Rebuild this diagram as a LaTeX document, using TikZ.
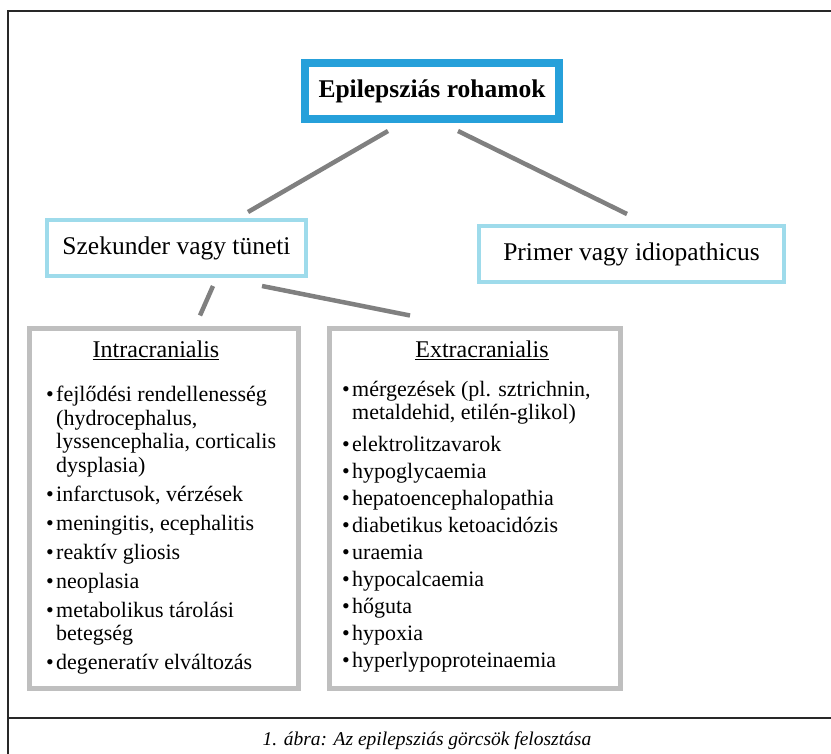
\documentclass[tikz,border=0pt]{standalone}
\usepackage{fontspec}
\setmainfont{Liberation Serif}
\usetikzlibrary{positioning}
\definecolor{rohamblue}{RGB}{38,160,218}
\definecolor{tipusblue}{RGB}{158,219,235}
\definecolor{listgray}{RGB}{191,191,191}
\definecolor{linkgray}{RGB}{128,128,128}
\definecolor{keretgray}{RGB}{40,40,40}
\newcommand{\pont}{\makebox[10pt][l]{\textbullet}}
\newcommand{\folyt}{\hspace*{10pt}}

\begin{document}
\begin{tikzpicture}[
    x=1pt, y=-1pt,
    rootbox/.style={draw=rohamblue, line width=8pt, fill=white,
        minimum width=254pt, minimum height=56pt,
        font=\fontsize{25.5}{30}\selectfont\bfseries},
    typebox/.style={draw=tipusblue, line width=4pt, fill=white,
        minimum height=56pt, font=\fontsize{25.5}{30}\selectfont},
    listbox/.style={draw=listgray, line width=5pt, minimum height=360pt},
    listhead/.style={font=\fontsize{24}{28}\selectfont, inner sep=0pt},
    listitems/.style={align=left, inner sep=0pt, anchor=north west,
        font=\fontsize{22}{23.5}\selectfont},
    link/.style={draw=linkgray, line width=4.5pt},
    keret/.style={draw=keretgray, line width=1.6pt},
]
\useasboundingbox (0,0) rectangle (831,754);

% outer frame and caption line
\draw[keret] (8,754) -- (8,11) -- (831,11);
\draw[keret] (8,718) -- (831,718);

\node[rootbox] (roham) at (432,91) {Epilepsziás rohamok};
\node[typebox, minimum width=259pt] (szek) at (176.5,248.5) {Szekunder vagy tüneti};
\node[typebox, minimum width=305pt] (prim) at (631.5,254) {Primer vagy idiopathicus};
\node[listbox, minimum width=269pt] (intra) at (164,508.5) {};
\node[listbox, minimum width=291pt] (extra) at (475,508.5) {};

\draw[link] ([shift={(-44,8)}]roham.south) -- ([shift={(71.5,-6.5)}]szek.north);
\draw[link] ([shift={(26,8)}]roham.south) -- ([shift={(-4.5,-10)}]prim.north);
\draw[link] ([shift={(36.5,7.5)}]szek.south) -- ([shift={(36,-10.5)}]intra.north);
\draw[link] ([shift={(85.5,7.5)}]szek.south) -- ([shift={(-65,-10.5)}]extra.north);

\node[listhead] (intrahead) at (156,350) {\underline{Intracranialis}};
\node[listhead] (extrahead) at (482,350) {\underline{Extracranialis}};

\node[listitems] (intralist) at (46,386) {%
    \pont fejlődési rendellenesség\\
    \folyt (hydrocephalus,\\
    \folyt lyssencephalia, corticalis\\
    \folyt dysplasia)\\[5.5pt]
    \pont infarctusok, vérzések\\[5.5pt]
    \pont meningitis, ecephalitis\\[5.5pt]
    \pont reaktív gliosis\\[5.5pt]
    \pont neoplasia\\[5.5pt]
    \pont metabolikus tárolási\\
    \folyt betegség\\[5.5pt]
    \pont degeneratív elváltozás};
\node[listitems, font=\fontsize{22}{23}\selectfont] (extralist) at (342,381) {%
    \pont mérgezések (pl. sztrichnin,\\
    \folyt metaldehid, etilén-glikol)\\[9pt]
    \pont elektrolitzavarok\\[4pt]
    \pont hypoglycaemia\\[4pt]
    \pont hepatoencephalopathia\\[4pt]
    \pont diabetikus ketoacidózis\\[4pt]
    \pont uraemia\\[4pt]
    \pont hypocalcaemia\\[4pt]
    \pont hőguta\\[4pt]
    \pont hypoxia\\[4pt]
    \pont hyperlypoproteinaemia};

\node[font=\fontsize{19.5}{22}\selectfont\itshape] (abra) at (427,741)
    {1. ábra: Az epilepsziás görcsök felosztása};
\end{tikzpicture}
\end{document}
